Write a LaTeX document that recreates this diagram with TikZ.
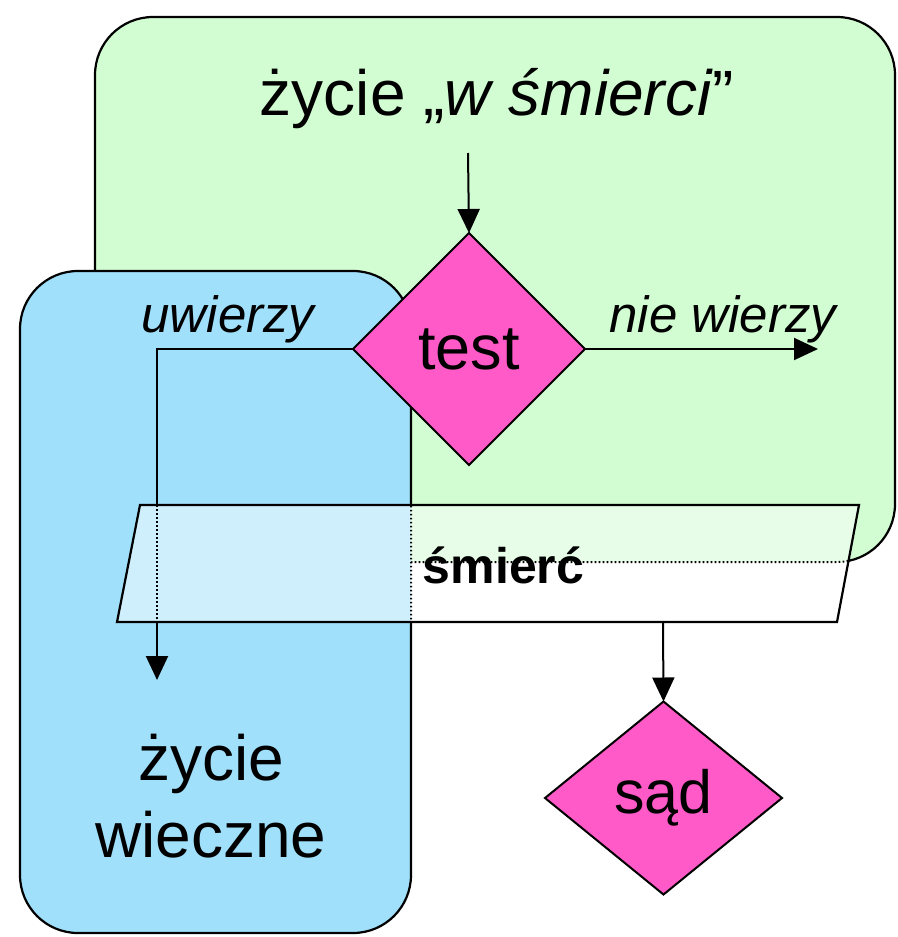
\documentclass[tikz,border=0pt]{standalone}
\usepackage{fontspec}
\setmainfont{Liberation Sans}
\usetikzlibrary{arrows.meta,shapes.geometric}
\definecolor{zgreen}{RGB}{210,252,210}
\definecolor{zblue}{RGB}{160,224,250}
\definecolor{zpink}{RGB}{255,90,200}
\begin{document}
\begin{tikzpicture}[x=1pt,y=-1pt,line width=2.2pt,
  region/.style={inner sep=0pt,outer sep=0pt,rounded corners=58pt},
  decision/.style={diamond,draw,fill=zpink,inner sep=0pt,outer sep=0pt,line width=2pt},
  arr/.style={line width=2pt,-{Triangle[length=24pt,width=22pt]}},
  dots/.style={line width=2pt,dash pattern=on 1.6pt off 2.4pt},
  bigtxt/.style={font=\fontsize{64}{77}\selectfont,inner sep=0pt},
  lbl/.style={font=\fontsize{51}{60}\selectfont\itshape,inner sep=0pt,anchor=base}]
\useasboundingbox (0,0) rectangle (897,937);
% regions (green under blue)
\node[region,draw,fill=zgreen,minimum width=800pt,minimum height=545pt] (green) at (495,289.5) {};
\node[region,draw,fill=zblue,minimum width=391pt,minimum height=662pt] (blue) at (215.5,602) {};
% parallelogram corners and free ends
\coordinate (p1) at (140,505);
\coordinate (p2) at (859,505);
\coordinate (p3) at (837,622);
\coordinate (p4) at (117,622);
\coordinate (smb) at (663,622);
\coordinate (topc) at (468,153);
\coordinate (nw) at (818,349);
\coordinate (ua) at (157,680);
% decisions
\node[decision,minimum width=232pt,minimum height=232pt,font=\fontsize{63}{70}\selectfont] (test) at (469,349) {test};
\node[decision,minimum width=237pt,minimum height=193pt,font=\fontsize{61}{70}\selectfont] (sad) at (663.5,798) {sąd};
\draw[arr] (test.west) -| (ua);
% translucent parallelogram: what lies under it is seen faded, its edges dotted
\begin{scope}
\clip (p1) -- (p2) -- (p3) -- (p4) -- cycle;
\fill[white] (0,0) rectangle (897,937);
\fill[region,zgreen,fill opacity=0.5] (green.south west) rectangle (green.north east);
\draw[region,dots] (green.south west) rectangle (green.north east);
\fill[region,white] (blue.south west) rectangle (blue.north east);
\fill[region,zblue,fill opacity=0.5] (blue.south west) rectangle (blue.north east);
\draw[region,dots] (blue.south west) rectangle (blue.north east);
\draw[dots] (test.west) -| (ua);
\end{scope}
\draw[line width=2.2pt] (p1) -- (p2) -- (p3) -- (p4) -- cycle;
% connectors
\draw[arr] (topc) -- (test.north);
\draw[arr] (test.east) -- (nw);
\draw[arr] (smb) -- (sad.north);
% texts
\node[bigtxt,anchor=base] (title) at (497,115) {życie „\textit{w śmierci}”};
\node[lbl] (nwl) at (723,332) {nie wierzy};
\node[lbl] (uwl) at (228,332) {uwierzy};
\node[font=\fontsize{50}{60}\selectfont\bfseries,inner sep=0pt,anchor=base] (smierc) at (503.5,583) {śmierć};
\node[bigtxt,align=center,anchor=base] (zw) at (211,857) {życie\\wieczne};
\end{tikzpicture}
\end{document}
